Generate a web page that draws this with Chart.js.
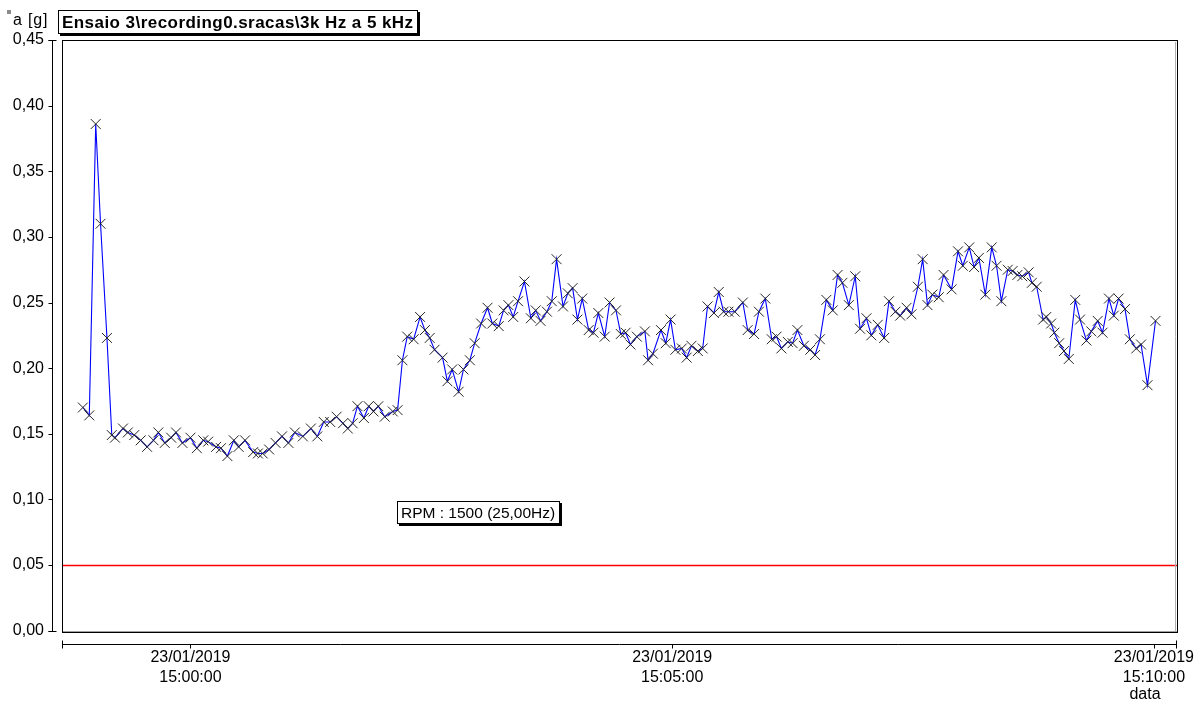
<!DOCTYPE html>
<html>
<head>
<meta charset="utf-8">
<script src="https://cdn.jsdelivr.net/npm/chart.js@4.4.1/dist/chart.umd.min.js"></script>
<style>
  html, body { margin: 0; padding: 0; background: #fff; }
  #wrap { width: 1202px; height: 704px; position: relative; }
</style>
</head>
<body>
<div id="wrap"><canvas id="c" width="1202" height="704"></canvas></div>
<script>
// Trend of vibration acceleration, 3 kHz - 5 kHz band
const seriesName = 'Ensaio 3\\recording0.sracas\\3k Hz a 5 kHz';
const yAxisName = 'a [g]';
const xAxisName = 'data';
const rpmLabel = 'RPM : 1500 (25,00Hz)';
const alarmLevel = 0.05;

// sample times, seconds relative to 23/01/2019 15:00:00
const seconds = [
  -67, -63, -59, -56, -52, -49, -47, -42, -39, -35,
  -31, -27, -23, -20, -16, -12, -9, -5, 0, 4,
  8, 11, 16, 19, 23, 27, 30, 34, 39, 42,
  45, 49, 53, 57, 61, 65, 70, 75, 79, 83,
  87, 91, 95, 98, 101, 104, 108, 111, 114, 117,
  121, 126, 129, 132, 135, 139, 143, 146, 149, 152,
  157, 160, 163, 167, 170, 174, 177, 181, 185, 188,
  192, 195, 198, 201, 204, 208, 212, 215, 218, 222,
  225, 228, 232, 235, 238, 241, 244, 248, 251, 254,
  258, 261, 265, 268, 271, 274, 278, 283, 285, 288,
  293, 296, 299, 302, 306, 309, 312, 316, 319, 322,
  326, 329, 332, 335, 339, 344, 347, 351, 354, 358,
  362, 365, 368, 372, 375, 378, 382, 386, 389, 392,
  396, 400, 403, 406, 410, 414, 417, 421, 424, 428,
  432, 435, 439, 442, 446, 449, 453, 456, 459, 462,
  466, 469, 474, 478, 481, 485, 488, 491, 495, 499,
  502, 505, 509, 512, 515, 518, 522, 524, 527, 531,
  533, 536, 538, 541, 544, 547, 551, 554, 558, 561,
  565, 568, 572, 575, 578, 582, 585, 589, 592, 596,
  601
];

// acceleration, g
const accel = [
  0.170, 0.164, 0.386, 0.310, 0.223, 0.149, 0.147, 0.154, 0.151, 0.149,
  0.145, 0.140, 0.145, 0.151, 0.143, 0.147, 0.151, 0.143, 0.147, 0.139,
  0.145, 0.144, 0.140, 0.139, 0.133, 0.145, 0.140, 0.145, 0.136, 0.135,
  0.135, 0.138, 0.143, 0.148, 0.143, 0.151, 0.148, 0.154, 0.148, 0.159,
  0.159, 0.163, 0.158, 0.154, 0.158, 0.171, 0.162, 0.171, 0.167, 0.171,
  0.163, 0.167, 0.168, 0.206, 0.224, 0.222, 0.239, 0.229, 0.223, 0.214,
  0.208, 0.190, 0.199, 0.182, 0.199, 0.206, 0.219, 0.234, 0.246, 0.234,
  0.232, 0.244, 0.248, 0.239, 0.251, 0.266, 0.238, 0.244, 0.236, 0.243,
  0.251, 0.283, 0.247, 0.257, 0.261, 0.237, 0.253, 0.229, 0.227, 0.242,
  0.224, 0.250, 0.244, 0.226, 0.227, 0.218, 0.224, 0.228, 0.206, 0.211,
  0.229, 0.219, 0.237, 0.214, 0.215, 0.208, 0.217, 0.213, 0.215, 0.247,
  0.242, 0.258, 0.243, 0.243, 0.243, 0.250, 0.229, 0.226, 0.243, 0.253,
  0.222, 0.224, 0.215, 0.220, 0.219, 0.229, 0.217, 0.214, 0.210, 0.222,
  0.252, 0.244, 0.271, 0.265, 0.248, 0.270, 0.230, 0.238, 0.225, 0.233,
  0.223, 0.251, 0.243, 0.240, 0.246, 0.241, 0.262, 0.283, 0.248, 0.256,
  0.254, 0.271, 0.260, 0.289, 0.278, 0.292, 0.277, 0.284, 0.256, 0.292,
  0.278, 0.251, 0.275, 0.274, 0.271, 0.270, 0.273, 0.265, 0.262, 0.237,
  0.239, 0.234, 0.227, 0.219, 0.213, 0.207, 0.252, 0.237, 0.221, 0.228,
  0.236, 0.227, 0.253, 0.240, 0.253, 0.245, 0.222, 0.215, 0.218, 0.187,
  0.236
];

const yTicks = [0, 0.05, 0.10, 0.15, 0.20, 0.25, 0.30, 0.35, 0.40, 0.45];
const xTicks = [0, 300, 600];
const xTickDate = '23/01/2019';
const xTickTimes = ['15:00:00', '15:05:00', '15:10:00'];

const FONT = 'Liberation Sans, Arial, sans-serif';

function hline(ctx, x1, x2, y) { ctx.beginPath(); ctx.moveTo(x1, y); ctx.lineTo(x2, y); ctx.stroke(); }
function vline(ctx, x, y1, y2) { ctx.beginPath(); ctx.moveTo(x, y1); ctx.lineTo(x, y2); ctx.stroke(); }

function boxedText(ctx, text, left, top, h, font, spacing) {
  ctx.font = font;
  ctx.letterSpacing = spacing + 'px';
  const w = Math.ceil(ctx.measureText(text).width) + 8;
  ctx.fillStyle = '#000';
  ctx.fillRect(left + 2, top + 2, w, h);          // drop shadow
  ctx.fillStyle = '#fff';
  ctx.fillRect(left, top, w, h);
  ctx.strokeStyle = '#000';
  ctx.lineWidth = 1;
  ctx.strokeRect(left + 0.5, top + 0.5, w - 1, h - 1);
  ctx.fillStyle = '#000';
  ctx.textAlign = 'left';
  ctx.textBaseline = 'middle';
  ctx.fillText(text, left + 4, top + h / 2 + 1);
  ctx.letterSpacing = '0px';
}

const decor = {
  id: 'decor',
  beforeDatasetsDraw(chart) {
    const { ctx, chartArea: a, scales: { y } } = chart;
    ctx.save();
    // zero line
    ctx.fillStyle = '#a0a0a0';
    ctx.fillRect(a.left, Math.round(y.getPixelForValue(0)), a.right - a.left, 1);
    // alarm level
    ctx.fillStyle = '#ff0000';
    ctx.fillRect(a.left, Math.round(y.getPixelForValue(alarmLevel)) - 0.25, a.right - a.left, 1.5);
    ctx.restore();
  },
  afterDraw(chart) {
    const { ctx, chartArea: a, scales: { x, y } } = chart;
    ctx.save();
    ctx.lineWidth = 1;
    ctx.strokeStyle = '#000';
    // plot frame
    ctx.strokeRect(a.left + 0.5, a.top + 0.5, a.right - a.left - 1, a.bottom - a.top - 1);
    ctx.strokeStyle = '#b0b0b0';
    vline(ctx, a.right - 2.5, a.top + 2, a.bottom - 2);

    // value axis, detached to the left of the frame
    ctx.strokeStyle = '#000';
    const ax = a.left - 9.5;
    const yTop = Math.round(y.getPixelForValue(yTicks[yTicks.length - 1])) + 0.5;
    const yBot = Math.round(y.getPixelForValue(yTicks[0])) + 0.5;
    vline(ctx, ax, yTop, yBot);
    yTicks.forEach(v => {
      const py = Math.round(y.getPixelForValue(v)) + 0.5;
      hline(ctx, ax - 4, ax, py);
    });
    hline(ctx, ax - 4, ax + 4, yTop);
    hline(ctx, ax - 4, ax + 4, yBot);

    // time axis, detached below the frame
    const ay = a.bottom + 11.5;
    hline(ctx, a.left, a.right - 1, ay);
    vline(ctx, a.left + 0.5, ay - 4, ay + 4);
    vline(ctx, a.right - 1.5, ay - 4, ay + 4);
    xTicks.forEach(v => {
      const px = Math.round(x.getPixelForValue(v)) + 0.5;
      vline(ctx, px, ay, ay + 4);
    });

    // axis names
    ctx.fillStyle = '#000';
    ctx.font = '16px ' + FONT;
    ctx.textAlign = 'center';
    ctx.textBaseline = 'middle';
    ctx.fillText(xAxisName, a.right - 33, 695);
    ctx.textAlign = 'left';
    ctx.letterSpacing = '0.8px';
    ctx.fillText(yAxisName, 13, 21);
    ctx.letterSpacing = '0px';
    ctx.fillStyle = '#8a8a8a';
    ctx.fillRect(7, 10, 4, 4);

    // series caption and speed note
    boxedText(ctx, seriesName, 58, 10, 24, 'bold 17px ' + FONT, 0.45);
    boxedText(ctx, rpmLabel, 397, 501, 23, '15.5px ' + FONT, 0);
    ctx.restore();
  }
};

new Chart(document.getElementById('c'), {
  type: 'line',
  data: {
    datasets: [{
      label: seriesName,
      data: seconds.map((s, i) => ({ x: s, y: accel[i] })),
      borderColor: '#0000ff',
      borderWidth: 1.1,
      tension: 0,
      pointStyle: 'crossRot',
      pointRadius: 7,
      pointBorderColor: '#262626',
      pointBorderWidth: 1,
      pointBackgroundColor: '#262626'
    }]
  },
  options: {
    responsive: false,
    animation: false,
    devicePixelRatio: 1,
    layout: { padding: { top: 40, right: 24, left: 0, bottom: 0 } },
    plugins: { legend: { display: false }, tooltip: { enabled: false }, title: { display: false } },
    scales: {
      x: {
        type: 'linear',
        min: -80,
        max: 615,
        afterFit: s => { s.height = 71; s.paddingLeft = 0; s.paddingRight = 0; },
        afterBuildTicks: s => { s.ticks = xTicks.map(v => ({ value: v })); },
        grid: { display: false, drawTicks: false },
        border: { display: false },
        ticks: {
          autoSkip: false,
          maxRotation: 0,
          padding: 15,
          color: '#000',
          font: { family: FONT, size: 16, lineHeight: 1.25 },
          callback: (v, i) => [xTickDate, xTickTimes[i]]
        }
      },
      y: {
        type: 'linear',
        min: -0.0018,
        max: 0.45,
        afterFit: s => { s.width = 62; s.paddingTop = 0; s.paddingBottom = 0; },
        afterBuildTicks: s => { s.ticks = yTicks.map(v => ({ value: v })); },
        grid: { display: false, drawTicks: false },
        border: { display: false },
        ticks: {
          padding: 18,
          color: '#000',
          font: { family: FONT, size: 16 },
          callback: v => v.toFixed(2).replace('.', ',')
        }
      }
    }
  },
  plugins: [decor]
});
</script>
</body>
</html>
